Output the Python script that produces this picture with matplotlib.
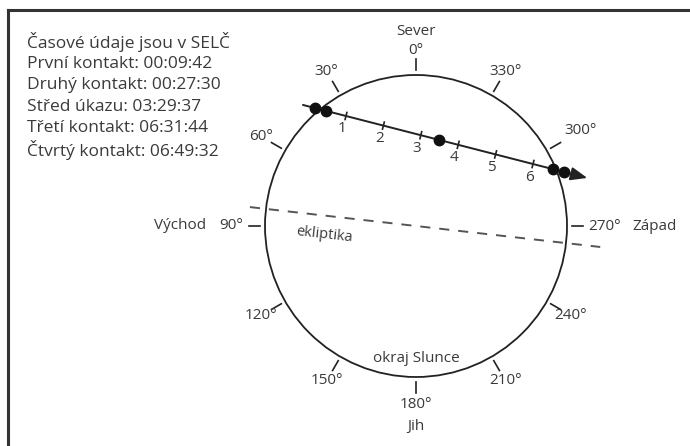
import numpy as np
import matplotlib
matplotlib.use("Agg")
import matplotlib.pyplot as plt
from matplotlib.patches import Circle

plt.rcParams['font.family'] = ['Open Sans', 'DejaVu Sans']

# data
header = "Časové údaje jsou v SELČ"
contact_names = ["První kontakt", "Druhý kontakt", "Střed úkazu", "Třetí kontakt", "Čtvrtý kontakt"]
contact_times = ["00:09:42", "00:27:30", "03:29:37", "06:31:44", "06:49:32"]
hour_marks = [1, 2, 3, 4, 5, 6]
pa_angles = [0, 30, 60, 90, 120, 150, 180, 210, 240, 270, 300, 330]
pa_labels = ["0°", "30°", "60°", "90°", "120°", "150°", "180°", "210°", "240°", "270°", "300°", "330°"]
ecliptic_tilt = -6.5  # deg

# path of the planet across the disc (sun radii), position at 1 h and motion per hour
path_at_1h = np.array([-0.4636, 0.7285])
path_per_h = np.array([0.2477, -0.0636])
path_span = (-0.15, 7.45)


def to_hours(s):
    h, m, sec = [int(v) for v in s.split(":")]
    return h + m / 60 + sec / 3600


def path_pos(t):
    return path_at_1h + (t - 1) * path_per_h


W, H = 690, 446
cx, cy, R = 416, 226, 151

fig = plt.figure(figsize=(W / 100, H / 100), dpi=100)
ax = fig.add_axes([0, 0, 1, 1])
ax.set_xlim(-cx / R, (W - cx) / R)
ax.set_ylim(-(H - cy) / R, cy / R)
ax.axis("off")

txt = "#3a3a3a"
ink = "#222222"
fs = 11

# frame
fig.add_artist(plt.Line2D([8 / W, 8 / W], [0, 1 - 10 / H], color="#333333", lw=2.2))
fig.add_artist(plt.Line2D([8 / W, 1], [1 - 10 / H, 1 - 10 / H], color="#333333", lw=2.2))

# sun limb
ax.add_patch(Circle((0, 0), 1, fill=False, color=ink, lw=1.3))
ax.text(0, -0.88, "okraj Slunce", ha="center", va="center", fontsize=fs, color=txt)

# position angle ticks and labels (0° north, 90° east on the left)
for a, lab in zip(pa_angles, pa_labels):
    th = np.radians(a)
    dx, dy = -np.sin(th), np.cos(th)
    ax.plot([1.03 * dx, 1.105 * dx], [1.03 * dy, 1.105 * dy], color=ink, lw=1.2)
    if a == 90:
        ax.text(-1.145, 0.005, lab, ha="right", va="center", fontsize=fs, color=txt)
        ax.text(-1.39, 0.005, "Východ", ha="right", va="center", fontsize=fs, color=txt)
    elif a == 270:
        ax.text(1.14, 0.0, lab, ha="left", va="center", fontsize=fs, color=txt)
        ax.text(1.435, 0.0, "Západ", ha="left", va="center", fontsize=fs, color=txt)
    else:
        rl = {0: 1.16, 300: 1.26}.get(a, 1.185)
        ax.text(rl * dx, rl * dy, lab, ha="center", va="center", fontsize=fs, color=txt)
ax.text(0, 1.285, "Sever", ha="center", va="center", fontsize=fs, color=txt)
ax.text(0, -1.33, "Jih", ha="center", va="center", fontsize=fs, color=txt)

# ecliptic
k = np.tan(np.radians(ecliptic_tilt))
ex = np.array([-1.10, 1.22])
ax.plot(ex, k * ex, color="#555555", lw=1.4, linestyle=(0, (5.2, 4.6)))
ax.text(-0.61, -0.06, "ekliptika", ha="center", va="center", fontsize=10.5,
        color=txt, rotation=ecliptic_tilt)

# transit path
p0 = path_pos(path_span[0])
p1 = path_pos(path_span[1])
ax.annotate("", xy=p1, xytext=p0,
            arrowprops=dict(arrowstyle="-|>,head_length=1.0,head_width=0.4",
                            color=ink, lw=1.4, shrinkA=0, shrinkB=0, mutation_scale=10))
perp = np.array([path_per_h[1], -path_per_h[0]])
perp = perp / np.hypot(*perp) * 0.024
for h in hour_marks:
    p = path_pos(h)
    ax.plot([p[0] - perp[0], p[0] + perp[0]], [p[1] - perp[1], p[1] + perp[1]], color=ink, lw=1.2)
    ax.annotate(str(h), xy=p, xytext=(-4, -13), textcoords="offset pixels",
                ha="center", va="center", fontsize=fs, color=txt)

times = np.array([to_hours(t) for t in contact_times])
pts = np.array([path_pos(t) for t in times])
ax.plot(pts[:, 0], pts[:, 1], "o", color="#111111", ms=7.5, zorder=5)

# info block
lines = [header] + [f"{n}: {t}" for n, t in zip(contact_names, contact_times)]
for i, line in enumerate(lines):
    fig.text(27 / W, 1 - (42 + i * 21.6) / H, line, ha="left", va="center", fontsize=12.5, color=txt)

fig.savefig("out.png", dpi=100)
